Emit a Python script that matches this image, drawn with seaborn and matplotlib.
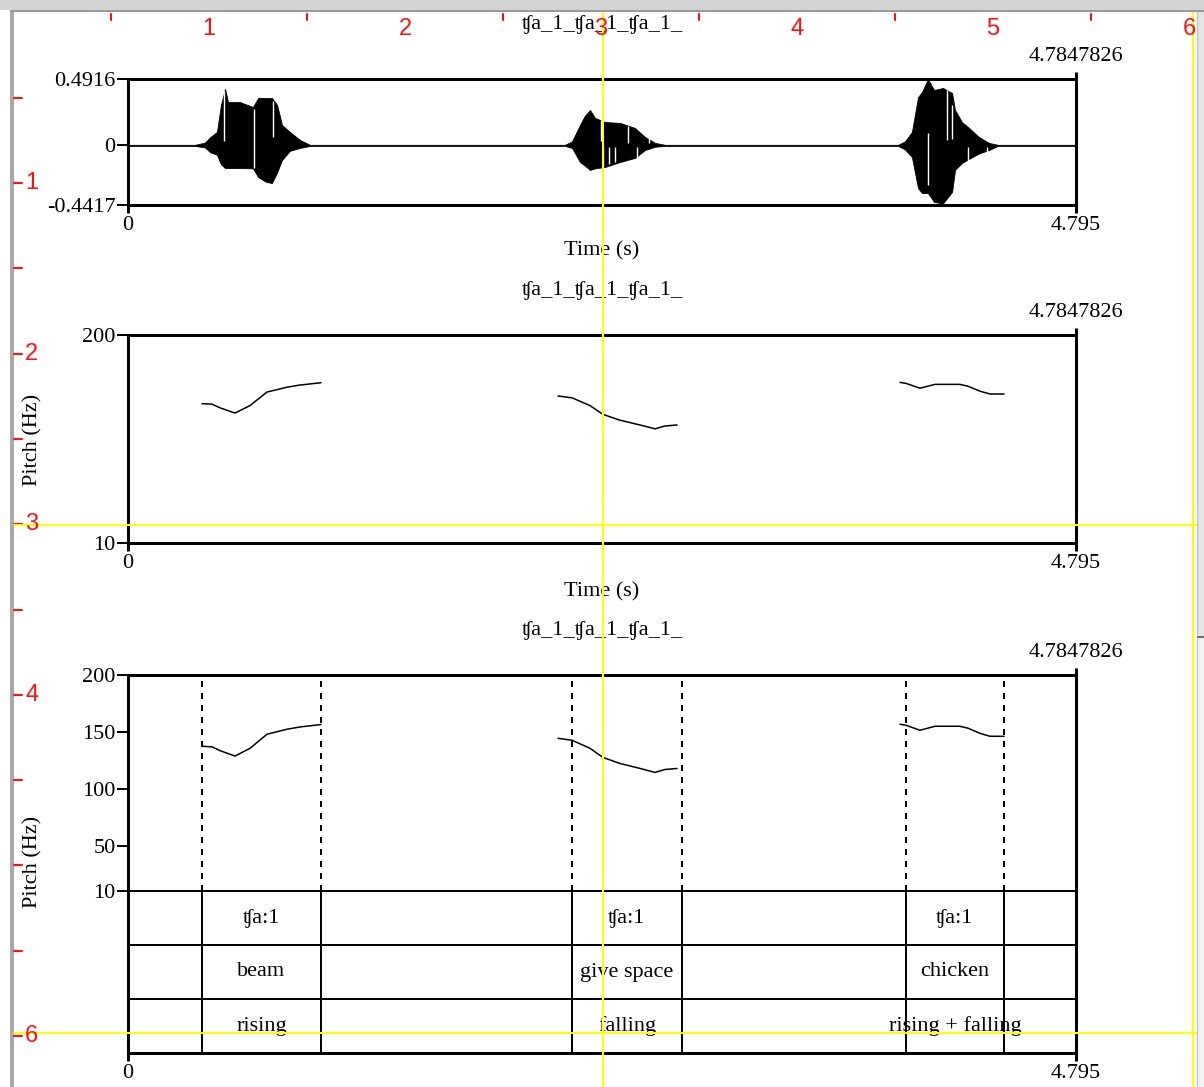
import numpy as np
import pandas as pd
import matplotlib
matplotlib.use("Agg")
import matplotlib.pyplot as plt
import seaborn as sns

# ---------------- data ----------------
T_END = 4.795
TOP_LABEL = "4.7847826"
TITLE = "ʧa_1_ʧa_1_ʧa_1_"
WAVE_YMIN, WAVE_YMAX = -0.4417, 0.4916
PITCH_MIN, PITCH_MAX = 10, 200
pitch_ticks = [10, 50, 100, 150, 200]

# waveform envelope (time s, upper amplitude, lower amplitude)
wave_t = [0.0, 0.339, 0.389, 0.415, 0.450, 0.470, 0.491, 0.506, 0.566, 0.632, 0.658, 0.698, 0.728,
          0.754, 0.779, 0.819, 0.870, 0.920,
          2.210, 2.246, 2.286, 2.311, 2.337, 2.362, 2.413, 2.489, 2.564, 2.615, 2.666, 2.716,
          3.895, 3.930, 3.965, 3.996, 4.016, 4.046, 4.077, 4.122, 4.168, 4.183, 4.218,
          4.254, 4.304, 4.355, 4.400, 4.795]
wave_top = [0.004, 0.004, 0.020, 0.060, 0.100, 0.300, 0.418, 0.321, 0.321, 0.284, 0.351, 0.351, 0.351,
            0.299, 0.151, 0.099, 0.040, 0.004,
            0.004, 0.030, 0.151, 0.220, 0.262, 0.203, 0.173, 0.166, 0.129, 0.062, 0.018, 0.004,
            0.004, 0.030, 0.099, 0.358, 0.395, 0.490, 0.410, 0.425, 0.388, 0.262, 0.173,
            0.129, 0.062, 0.018, 0.004, 0.004]
wave_bot = [-0.004, -0.004, -0.015, -0.050, -0.070, -0.140, -0.168, -0.168, -0.168, -0.170, -0.234, -0.270, -0.279,
            -0.200, -0.108, -0.040, -0.019, -0.004,
            -0.004, -0.019, -0.123, -0.150, -0.182, -0.170, -0.160, -0.123, -0.093, -0.034, -0.010, -0.004,
            -0.004, -0.030, -0.086, -0.316, -0.353, -0.353, -0.419, -0.430, -0.345, -0.182, -0.130,
            -0.100, -0.060, -0.034, -0.004, -0.004]
# white streaks inside the waveform
gap_t = [0.486, 0.637, 0.733, 2.392, 2.402, 2.433, 2.463, 2.529, 2.574, 2.635,
         4.046, 4.142, 4.168, 4.249, 4.345]
gap_lo = [0.03, -0.17, 0.06, 0.03, -0.15, -0.14, -0.12, 0.02, -0.09, 0.02,
          -0.29, 0.04, 0.05, -0.12, -0.06]
gap_hi = [0.40, 0.27, 0.33, 0.19, -0.01, -0.01, -0.01, 0.14, -0.01, 0.06,
          0.09, 0.41, 0.30, -0.01, -0.01]

# pitch contours
pitch_t1 = [0.374, 0.425, 0.465, 0.541, 0.617, 0.703, 0.804, 0.870, 0.976]
pitch_f1 = [137.3, 136.8, 133.5, 128.7, 135.5, 147.9, 152.3, 154.3, 156.4]
pitch_t2 = [2.175, 2.246, 2.337, 2.402, 2.488, 2.590, 2.666, 2.716, 2.777]
pitch_f2 = [144.3, 142.6, 135.5, 127.5, 122.2, 117.8, 114.3, 116.9, 117.8]
pitch_t3 = [3.905, 3.935, 4.006, 4.082, 4.208, 4.249, 4.309, 4.360, 4.431]
pitch_f3 = [156.7, 155.8, 151.4, 154.9, 154.9, 153.2, 148.7, 146.1, 146.1]

# TextGrid
boundaries = [0.374, 0.976, 2.246, 2.802, 3.935, 4.431]
tier_syllable = ["ʧa:1", "ʧa:1", "ʧa:1"]
tier_gloss = ["beam", "give space", "chicken"]
tier_tone = ["rising", "falling", "rising + falling"]

# ---------------- figure ----------------
W, H = 1204, 1087
sns.set_theme(style="white")
plt.rcParams["font.family"] = ["Liberation Serif", "DejaVu Serif"]
plt.rcParams["text.color"] = "black"
plt.rcParams["axes.labelcolor"] = "black"

fig = plt.figure(figsize=(W / 100, H / 100), dpi=100)
fig.patch.set_facecolor("white")

PX = 0.72  # points per pixel
FS = 16


def px_axes(x0, y0, x1, y1, **kw):
    return fig.add_axes([x0 / W, 1 - y1 / H, (x1 - x0) / W, (y1 - y0) / H], **kw)


def fx(x, y):
    return x / W, 1 - y / H


def style_box(ax, bottom=True):
    for s in ax.spines.values():
        s.set_color("black")
        s.set_linewidth(3 * PX)
    ax.set_facecolor("white")
    ax.tick_params(axis="y", left=True, direction="out", length=8, width=2 * PX,
                   labelsize=FS, pad=1, colors="black")
    if bottom:
        ax.set_xticks([0, T_END])
        ax.set_xticklabels(["0", f"{T_END:g}"])
        ax.tick_params(axis="x", bottom=True, direction="out", length=6, width=3 * PX,
                       labelsize=FS, pad=2, colors="black")
    else:
        ax.set_xticks([])
    ax.set_xlim(0, T_END)
    ax.set_xlabel("")
    ax.set_ylabel("")
    ax.grid(False)


def top_mark(ax):
    sec = ax.secondary_xaxis("top")
    sec.set_xticks([T_END])
    sec.set_xticklabels([TOP_LABEL])
    sec.tick_params(direction="out", length=5, width=3 * PX, labelsize=FS, pad=4, colors="black")
    sec.spines["top"].set_linewidth(3 * PX)


# ---- panel 1: waveform ----
ax1 = px_axes(128, 79, 1076, 205)
ax1.fill_between(wave_t, wave_bot, wave_top, color="black", lw=0.6)
ax1.vlines(gap_t, gap_lo, gap_hi, color="white", lw=1.0)
ax1.set_ylim(WAVE_YMIN, WAVE_YMAX)
ax1.set_yticks([WAVE_YMIN, 0, WAVE_YMAX])
ax1.set_yticklabels([f"{WAVE_YMIN:g}", "0", f"{WAVE_YMAX:g}"])
style_box(ax1)
top_mark(ax1)

# ---- pitch dataframe ----
pitch_df = pd.DataFrame({
    "time": pitch_t1 + pitch_t2 + pitch_t3,
    "f0": pitch_f1 + pitch_f2 + pitch_f3,
    "syl": [1] * len(pitch_t1) + [2] * len(pitch_t2) + [3] * len(pitch_t3),
})

# ---- panel 2: pitch ----
ax2 = px_axes(128, 335, 1076, 543)
sns.lineplot(data=pitch_df, x="time", y="f0", units="syl", estimator=None,
             color="black", lw=1.1, ax=ax2)
ax2.set_ylim(PITCH_MIN, PITCH_MAX)
ax2.set_yticks([PITCH_MIN, PITCH_MAX])
ax2.set_yticklabels([str(PITCH_MIN), str(PITCH_MAX)])
style_box(ax2)
top_mark(ax2)

# ---- panel 3: pitch + textgrid ----
ax3 = px_axes(128, 675, 1076, 891)
sns.lineplot(data=pitch_df, x="time", y="f0", units="syl", estimator=None,
             color="black", lw=1.1, ax=ax3)
ax3.vlines(boundaries, PITCH_MIN, PITCH_MAX, color="black", lw=2 * PX,
           linestyles=(0, (3, 3)))
ax3.set_ylim(PITCH_MIN, PITCH_MAX)
ax3.set_yticks(pitch_ticks)
ax3.set_yticklabels([str(v) for v in pitch_ticks])
style_box(ax3, bottom=False)
ax3.spines["bottom"].set_visible(False)
top_mark(ax3)

ax4 = px_axes(128, 891, 1076, 1053)
ax4.set_ylim(3, 0)
ax4.hlines([1, 2], 0, T_END, color="black", lw=2 * PX)
ax4.vlines(boundaries, 0, 3, color="black", lw=2 * PX)
style_box(ax4)
ax4.set_yticks([])
ax4.tick_params(axis="y", left=False)
ax4.spines["top"].set_linewidth(2 * PX)
for row, labels in enumerate([tier_syllable, tier_gloss, tier_tone]):
    for k, lab in enumerate(labels):
        mid = (boundaries[2 * k] + boundaries[2 * k + 1]) / 2
        ax4.text(mid, row + 0.5, lab, ha="center", va="center", fontsize=FS, color="black")

# ---- figure texts ----
for ty in (25, 290, 630):
    fig.text(*fx(602, ty), TITLE, ha="center", va="center", fontsize=FS)
for ty in (251, 592):
    fig.text(*fx(602, ty), "Time (s)", ha="center", va="center", fontsize=FS)
for ty in (440, 862):
    fig.text(*fx(33, ty), "Pitch (Hz)", ha="center", va="center", rotation=90, fontsize=FS)

# ---- window decorations (Praat picture window) ----
ov = fig.add_axes([0, 0, 1, 1], zorder=10)
ov.set_xlim(0, W)
ov.set_ylim(H, 0)
ov.axis("off")
ov.patch.set_alpha(0)

RED = "#ff1010"
ruler_font = ["Liberation Sans", "DejaVu Sans"]
# top ruler
for k in range(6):
    x = 209 + 196 * k
    ov.text(x, 29, str(k + 1), color=RED, fontsize=17, ha="center", va="center", family=ruler_font)
    ov.plot([x - 98, x - 98], [14, 20], color=RED, lw=1.5)
# left ruler
for k in range(6):
    y = 183 + 170.6 * k
    if k != 4:
        ov.text(25, y, str(k + 1), color=RED, fontsize=17, ha="left", va="center", family=ruler_font)
    ov.plot([14, 22], [y, y], color=RED, lw=1.5)
    ov.plot([14, 22], [y - 85.3, y - 85.3], color=RED, lw=1.5)

# yellow selection lines
YEL = "#ffff00"
ov.plot([603, 603], [12, H], color=YEL, lw=2 * PX)
ov.plot([1193, 1193], [12, H], color=YEL, lw=2 * PX)
ov.plot([14, 1197], [525, 525], color=YEL, lw=2 * PX)
ov.plot([14, 1197], [1033, 1033], color=YEL, lw=2 * PX)

# frame
ov.add_patch(plt.Rectangle((0, 0), W, 10, color="#d4d4d4", lw=0))
ov.plot([11, W], [11, 11], color="#9a9a9a", lw=2 * PX)
ov.add_patch(plt.Rectangle((10, 10), 4, H - 10, color="#a9a9a9", lw=0))
ov.add_patch(plt.Rectangle((1197, 12), 7, 625, color="#e4e4e4", lw=0))
ov.add_patch(plt.Rectangle((1197, 637), 7, H - 637, color="#f3f3f3", lw=0))
ov.plot([1197, 1197], [12, H], color="#c4c4c4", lw=1)
ov.plot([1198, 1204], [637, 637], color="#707070", lw=1.5)

fig.savefig("out.png", dpi=100, facecolor="white")
